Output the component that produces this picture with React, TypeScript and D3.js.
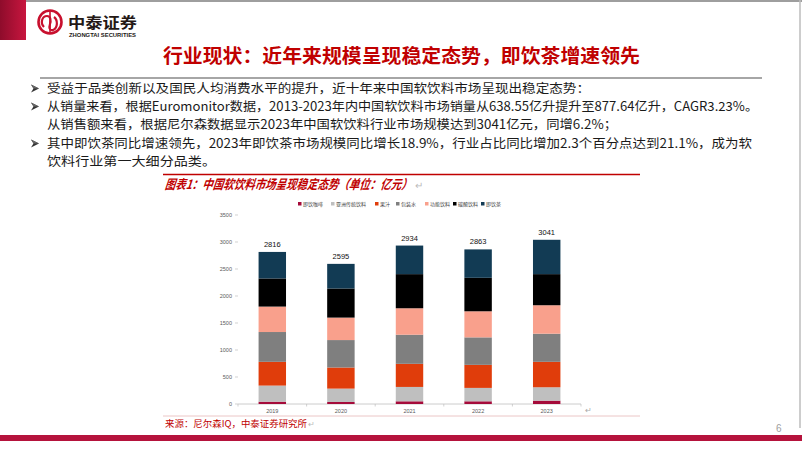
import React from "react";
import * as d3 from "d3";

const years = ["2019", "2020", "2021", "2022", "2023"];
const seriesNames = ["即饮咖啡", "亚洲传统饮料", "果汁", "包装水", "功能饮料", "碳酸饮料", "即饮茶"];
const seriesColors = ["#A50B3A", "#BFBFBF", "#E03D0B", "#7F7F7F", "#F9A08C", "#000000", "#123B54"];
const coffee = [43, 37, 50, 50, 62];
const asianTraditional = [298, 248, 266, 248, 248];
const juice = [440, 391, 428, 427, 471];
const water = [552, 508, 539, 509, 521];
const functional = [471, 416, 490, 483, 527];
const carbonated = [521, 539, 632, 620, 576];
const tea = [491, 456, 529, 526, 636];
const totals = [2816, 2595, 2934, 2863, 3041];
const yTicks = [0, 500, 1000, 1500, 2000, 2500, 3000, 3500];

const bullets = [
  { y: 93, lines: ["受益于品类创新以及国民人均消费水平的提升，近十年来中国软饮料市场呈现出稳定态势："], w: [543] },
  {
    y: 111,
    lines: [
      "从销量来看，根据Euromonitor数据，2013-2023年内中国软饮料市场销量从638.55亿升提升至877.64亿升，CAGR3.23%。",
      "从销售额来看，根据尼尔森数据显示2023年中国软饮料行业市场规模达到3041亿元，同增6.2%；",
    ],
    w: [711, 570],
  },
  {
    y: 148,
    lines: [
      "其中即饮茶同比增速领先，2023年即饮茶市场规模同比增长18.9%，行业占比同比增加2.3个百分点达到21.1%，成为软",
      "饮料行业第一大细分品类。",
    ],
    w: [705, 169],
  },
];

export default function App() {
  const W = 802, H = 451;
  const x = d3.scaleBand<string>().domain(years).range([238, 581]).paddingInner(0.6).paddingOuter(0.3);
  const y = d3.scaleLinear().domain([0, 3500]).range([404, 215]);
  const table = years.map((yr, i) => ({
    year: yr,
    s0: coffee[i], s1: asianTraditional[i], s2: juice[i], s3: water[i],
    s4: functional[i], s5: carbonated[i], s6: tea[i],
  }));
  const keys = ["s0", "s1", "s2", "s3", "s4", "s5", "s6"];
  const stacked = d3.stack<any>().keys(keys)(table);
  const step = x.step();
  const boundaries = d3.range(years.length + 1).map((i) => 238 + i * step);

  const legendX = [298, 331, 375, 396, 425, 453, 481];
  const cjk = "'Noto Sans CJK SC', 'Noto Sans', sans-serif";

  return (
    <svg width={W} height={H} style={{ position: "absolute", left: 0, top: 0, background: "#fff" }}>
      <defs>
        <linearGradient id="rg" x1="0" x2="1" y1="0" y2="0">
          <stop offset="0" stopColor="#8E0C2B" />
          <stop offset="1" stopColor="#C8163F" />
        </linearGradient>
      </defs>
      <rect x={0} y={0} width={W} height={H} fill="#fff" />
      {/* header */}
      <rect x={0} y={0} width={26} height={40} fill="url(#rg)" />
      <line x1={26} x2={W} y1={1} y2={1} stroke="#9E9E9E" strokeWidth={2} />
      <line x1={800} x2={800} y1={0} y2={428} stroke="#BDBDBD" strokeWidth={1.5} />
      <g>
        <circle cx={50} cy={22} r={11.5} fill="none" stroke="#C8102E" strokeWidth={2.6} />
        <path d="M44,27 C40,23 42,16 47,16 C51,16 51,21 50,24 C49,27 49,31 53,30 C58,28 58,20 54,17" fill="none" stroke="#C8102E" strokeWidth={2.2} />
        <line x1={50} x2={50} y1={11} y2={33} stroke="#C8102E" strokeWidth={1.6} />
      </g>
      <text x={68} y={28} fontFamily={cjk} fontWeight={700} fontSize={15} fill="#231815" textLength={69} lengthAdjust="spacingAndGlyphs">中泰证券</text>
      <text x={69} y={36.5} fontFamily="Arial, 'Liberation Sans', sans-serif" fontWeight={700} fontSize={4.8} fill="#231815" textLength={67} lengthAdjust="spacingAndGlyphs">ZHONGTAI SECURITIES</text>

      {/* title */}
      <text x={163} y={63} fontFamily={cjk} fontWeight={700} fontSize={19} fill="#C00000" textLength={477} lengthAdjust="spacingAndGlyphs">行业现状：近年来规模呈现稳定态势，即饮茶增速领先</text>
      <line x1={40} x2={762} y1={78} y2={78} stroke="#A6A6A6" strokeWidth={2} />

      {/* bullets */}
      {bullets.map((b, bi) => (
        <g key={bi}>
          <g transform={`translate(31,${b.y - 4.5})`}>
            <path d="M0,-4 L8,0 L0,4 L2.5,0 Z" fill="#333" />
            <path d="M0,-4 L8,0 L2.5,0 Z" fill="#666" />
          </g>
          {b.lines.map((ln, li) => (
            <text key={li} x={47} y={b.y + li * 18} fontFamily={cjk} fontSize={12.5} fill="#1a1a1a" textLength={b.w[li]} lengthAdjust="spacingAndGlyphs">{ln}</text>
          ))}
        </g>
      ))}

      {/* chart title */}
      <line x1={163} x2={640} y1={174.5} y2={174.5} stroke="#C00000" strokeWidth={1.5} />
      <text x={165} y={189} fontFamily={cjk} fontWeight={700} fontStyle="italic" fontSize={13} fill="#C00000" textLength={247} lengthAdjust="spacingAndGlyphs" transform="skewX(-8) translate(26,0)">图表1：中国软饮料市场呈现稳定态势（单位：亿元）</text>
      <text x={415} y={189} fontFamily={cjk} fontSize={10} fill="#BBBBBB">↵</text>

      {/* legend */}
      {seriesNames.map((n, i) => (
        <g key={n}>
          <rect x={legendX[i]} y={202} width={3.5} height={3.5} fill={seriesColors[i]} />
          <text x={legendX[i] + 5} y={206} fontFamily={cjk} fontSize={5} fill="#404040">{n}</text>
        </g>
      ))}

      {/* y axis */}
      {yTicks.map((t) => (
        <g key={t}>
          <line x1={235} x2={238} y1={y(t)} y2={y(t)} stroke="#BFBFBF" strokeWidth={0.7} />
          <text x={232} y={y(t) + 2} textAnchor="end" fontFamily="Arial, 'Liberation Sans', sans-serif" fontSize={5.5} fill="#595959">{t}</text>
        </g>
      ))}
      {/* x axis */}
      <line x1={238} x2={581} y1={y(0)} y2={y(0)} stroke="#BFBFBF" strokeWidth={0.8} />
      {boundaries.map((bx, i) => (
        <line key={i} x1={bx} x2={bx} y1={y(0)} y2={y(0) + 2.5} stroke="#BFBFBF" strokeWidth={0.7} />
      ))}
      {years.map((yr) => (
        <text key={yr} x={(x(yr) as number) + x.bandwidth() / 2} y={413} textAnchor="middle" fontFamily="Arial, 'Liberation Sans', sans-serif" fontSize={5.5} fill="#595959">{yr}</text>
      ))}
      <text x={585} y={413} fontFamily={cjk} fontSize={8} fill="#AAAAAA">↵</text>

      {/* bars */}
      {stacked.map((layer, si) => (
        <g key={si} fill={seriesColors[si]}>
          {layer.map((d: any, i: number) => (
            <rect key={i} x={x(years[i])} y={y(d[1])} width={x.bandwidth()} height={y(d[0]) - y(d[1])} />
          ))}
        </g>
      ))}
      {years.map((yr, i) => (
        <text key={yr} x={(x(yr) as number) + x.bandwidth() / 2} y={y(totals[i]) - 5} textAnchor="middle" fontFamily="Arial, 'Liberation Sans', sans-serif" fontSize={7.5} fill="#111">{totals[i]}</text>
      ))}

      {/* source */}
      <line x1={163} x2={640} y1={416} y2={416} stroke="#E6B8B8" strokeWidth={0.8} />
      <text x={165} y={427} fontFamily={cjk} fontSize={9} fill="#C00000" textLength={142} lengthAdjust="spacingAndGlyphs">来源：尼尔森IQ，中泰证券研究所</text>
      <text x={308} y={427} fontFamily={cjk} fontSize={8} fill="#BBBBBB">↵</text>

      {/* footer */}
      <text x={776} y={432} fontFamily="Arial, 'Liberation Sans', sans-serif" fontSize={10} fill="#9E9E9E">6</text>
      <rect x={0} y={435} width={W} height={6} fill="#B5133C" />
    </svg>
  );
}
